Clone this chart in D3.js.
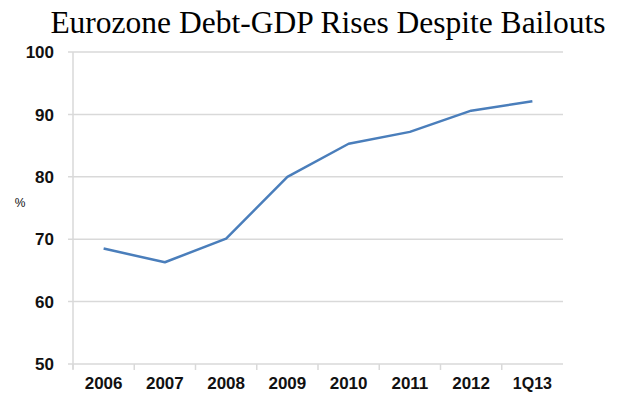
<!DOCTYPE html>
<html>
<head>
<meta charset="utf-8">
<script src="https://cdn.jsdelivr.net/npm/d3@7"></script>
<style>
  body { margin: 0; background: #fff; }
</style>
</head>
<body>
<div id="chart"></div>
<script>
// Data
var categories = ["2006", "2007", "2008", "2009", "2010", "2011", "2012", "1Q13"];
var debtGdp = [68.5, 66.3, 70.1, 80.0, 85.3, 87.2, 90.6, 92.1];
var yTicks = [50, 60, 70, 80, 90, 100];

var width = 628, height = 402;
var margin = ({ top: 52, right: 65, bottom: 38, left: 73 });

var svg = d3.select("#chart")
    .append("svg")
    .attr("width", width)
    .attr("height", height);

var x = d3.scaleBand()
    .domain(categories)
    .range([margin.left, width - margin.right]);
var y = d3.scaleLinear()
    .domain([50, 100])
    .range([height - margin.bottom, margin.top]);

// Title
svg.append("text")
    .attr("x", 328)
    .attr("y", 33)
    .attr("text-anchor", "middle")
    .attr("font-family", "Liberation Serif, Times New Roman, serif")
    .attr("font-size", 31.5)
    .attr("fill", "#000")
    .text("Eurozone Debt-GDP Rises Despite Bailouts");

// Horizontal grid
svg.append("g")
    .selectAll("line")
    .data(yTicks)
    .join("line")
      .attr("x1", margin.left - 5)
      .attr("x2", width - margin.right)
      .attr("y1", d => y(d))
      .attr("y2", d => y(d))
      .attr("stroke", "#d9d9d9")
      .attr("stroke-width", 1.5);

// Y axis line
svg.append("line")
    .attr("x1", margin.left).attr("x2", margin.left)
    .attr("y1", y(100)).attr("y2", y(50) + 5)
    .attr("stroke", "#d9d9d9")
    .attr("stroke-width", 1.5);

// X ticks at band edges
var edges = categories.map(d => x(d));
svg.append("g")
    .selectAll("line")
    .data(edges)
    .join("line")
      .attr("x1", d => d).attr("x2", d => d)
      .attr("y1", y(50)).attr("y2", y(50) + 6)
      .attr("stroke", "#d9d9d9")
      .attr("stroke-width", 1.5);

// Y labels
svg.append("g")
    .attr("font-family", "Liberation Sans, Arial, sans-serif")
    .attr("font-weight", "bold")
    .attr("font-size", 17)
    .attr("fill", "#111")
    .selectAll("text")
    .data(yTicks)
    .join("text")
      .attr("x", 54)
      .attr("y", d => y(d))
      .attr("dy", "0.36em")
      .attr("text-anchor", "end")
      .text(d => d);

// X labels
svg.append("g")
    .attr("font-family", "Liberation Sans, Arial, sans-serif")
    .attr("font-weight", "bold")
    .attr("fill", "#111")
    .selectAll("text")
    .data(categories)
    .join("text")
      .attr("x", d => x(d) + x.bandwidth() / 2)
      .attr("y", 389)
      .attr("text-anchor", "middle")
      .attr("font-size", d => d === "1Q13" ? 16 : 17)
      .text(d => d);

// % label
svg.append("text")
    .attr("x", 20)
    .attr("y", 207)
    .attr("text-anchor", "middle")
    .attr("font-family", "Liberation Sans, Arial, sans-serif")
    .attr("font-size", 12)
    .attr("fill", "#111")
    .text("%");

// The line
var line = d3.line()
    .x((d, i) => x(categories[i]) + x.bandwidth() / 2)
    .y(d => y(d));

svg.append("path")
    .datum(debtGdp)
    .attr("d", line)
    .attr("fill", "none")
    .attr("stroke", "#4a7ebb")
    .attr("stroke-width", 2.5)
    .attr("stroke-linejoin", "round");
</script>
</body>
</html>
